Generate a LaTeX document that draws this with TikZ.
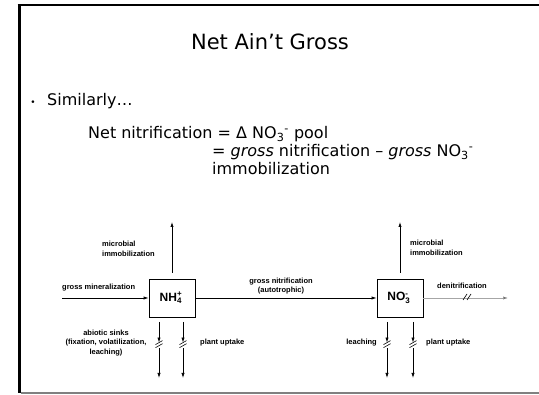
\documentclass[tikz,border=0pt]{standalone}
\usepackage{fontspec}
\setmainfont{DejaVu Sans}
\newfontfamily\diagfont{Liberation Sans}
\usetikzlibrary{arrows.meta,calc}
\newcommand\stackss[2]{\makebox[0.6em][l]{\fontsize{8}{8}\selectfont\raisebox{0.55em}{\rlap{#2}}\raisebox{-0.3em}{#1}}}
\begin{document}
\begin{tikzpicture}[x=1pt,y=-1pt,
  slide/.style={font=\fontsize{16}{19}\selectfont, inner sep=0pt},
  lab/.style={font=\diagfont\bfseries\fontsize{7.5}{9.5}\selectfont, inner sep=0pt},
  pool/.style={draw, line width=0.7pt, minimum width=46pt, minimum height=38pt, inner sep=0pt, font=\diagfont\bfseries\fontsize{12}{12}\selectfont},
  arr/.style={line width=0.7pt, -{Latex[length=5pt,width=3.2pt]}},
  brk/.style={line width=0.6pt},
]
\useasboundingbox (0,0) rectangle (539,395);
% slide frame
\coordinate (fTL) at (19,5.5);
\coordinate (fTR) at (539,5.5);
\coordinate (fBL) at (19,393);
\coordinate (fBR) at (539,393);
\draw[line width=3pt] (fTL) -- (fBL);
\draw[line width=2pt] ($(fTL)+(-1.5,0)$) -- (fTR);
\draw[line width=1.5pt, gray] ($(fBL)+(1.5,0)$) -- (fBR);
% title and text
\node[font=\fontsize{21}{25}\selectfont, inner sep=0pt, anchor=base] (title) at (270,50) {Net Ain’t Gross};
\node[slide, anchor=base] (bul) at (33,106) {\fontsize{9}{9}\selectfont•};
\node[slide, anchor=base west] (sim) at (47,106) {Similarly…};
\node[slide, anchor=base west] (l1) at (88,139) {Net nitrification = Δ NO\textsubscript{3}\textsuperscript{-} pool};
\node[slide, anchor=base west] (l2) at (212,157) {= \textit{gross} nitrification – \textit{gross} NO\textsubscript{3}\textsuperscript{-}};
\node[slide, anchor=base west] (l3) at (212,175) {immobilization};
% pools
\node[pool] (nh4) at (172,298) {NH\stackss{4}{+}};
\node[pool] (no3) at (400,298) {NO\stackss{3}{-}};
% coordinates
\coordinate (nh4up) at (172,222);
\coordinate (no3up) at (400,222);
\coordinate (gmin) at (62,298);
\coordinate (denit) at (508,298);
\coordinate (a1t) at (159,317);
\coordinate (a1b) at (159,378);
\coordinate (a2t) at (183,317);
\coordinate (a2b) at (183,378);
\coordinate (b1t) at (387,317);
\coordinate (b1b) at (387,378);
\coordinate (b2t) at (413,317);
\coordinate (b2b) at (413,378);
% connectors
\draw[arr, shorten <=6pt] (nh4.north) -- (nh4up);
\draw[arr, shorten <=6pt] (no3.north) -- (no3up);
\draw[arr] (gmin) -- (nh4.west);
\draw[arr] (nh4.east) -- (no3.west);
\draw[line width=0.5pt, gray!70, -{Latex[length=5pt,width=3.2pt,fill=black]}] (no3.east) -- (denit);
\foreach \p/\q in {a1t/a1b,a2t/a2b,b1t/b1b,b2t/b2b}{
  \draw[arr, shorten <=5pt] (\p) -- ($(\p)!0.42!(\q)$);
  \draw[arr] ($(\p)!0.47!(\q)$) -- (\q);
  \draw[line width=0.9pt, white, shorten <=5pt] ($(\p)!0.42!(\q)$) -- ($(\p)!0.47!(\q)$);
  \draw[brk] ($(\p)!0.42!(\q)+(-3.5,2)$) -- ($(\p)!0.42!(\q)+(3.5,-2)$);
  \draw[brk] ($(\p)!0.47!(\q)+(-3.5,2)$) -- ($(\p)!0.47!(\q)+(3.5,-2)$);
}
% denitrification break marks
\draw[brk] (463,300) -- (467,294);
\draw[brk] (467,300) -- (471,294);
% labels
\node[lab, anchor=north west, align=left] (lmi1) at (102,241) {microbial\\immobilization};
\node[lab, anchor=north west, align=left] (lmi2) at (410,240) {microbial\\immobilization};
\node[lab, anchor=base west] (lgm) at (62,290) {gross mineralization};
\node[lab, align=center] (lgn) at (281,286) {gross nitrification\\(autotrophic)};
\node[lab, anchor=base] (lden) at (462,289) {denitrification};
\node[lab, align=center] (labs) at (106,343) {abiotic sinks\\(fixation, volatilization,\\leaching)};
\node[lab, anchor=west] (lpu1) at (200,343) {plant uptake};
\node[lab, anchor=east] (lle) at (377,343) {leaching};
\node[lab, anchor=west] (lpu2) at (426,343) {plant uptake};
\end{tikzpicture}
\end{document}
